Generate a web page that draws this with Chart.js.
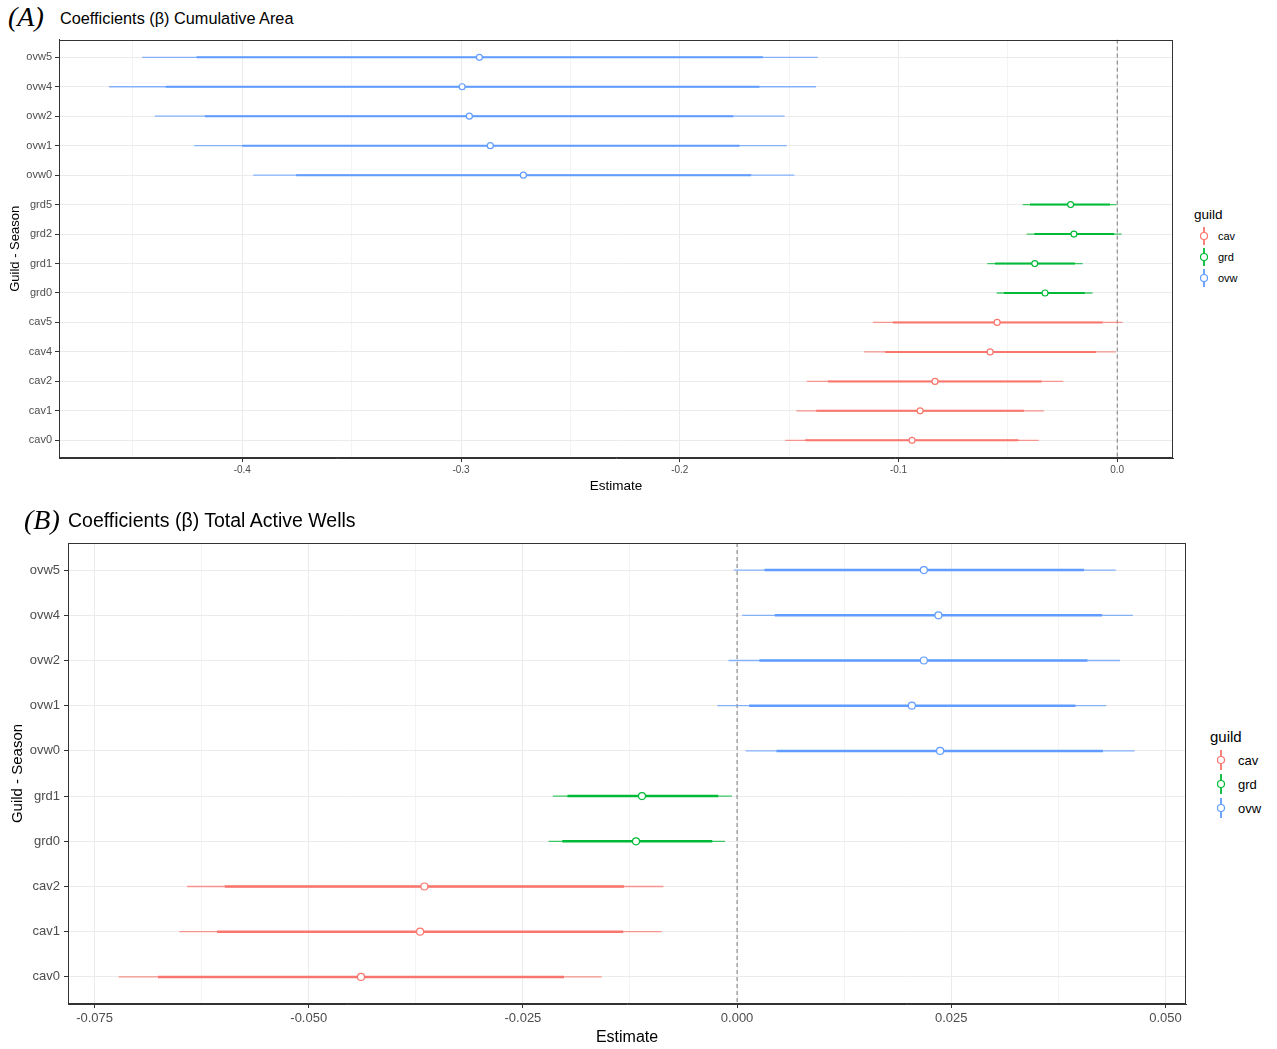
<!DOCTYPE html>
<html><head><meta charset="utf-8">
<script src="https://cdn.jsdelivr.net/npm/chart.js@4/dist/chart.umd.min.js"></script>
<style>
body{margin:0;background:#fff;width:1277px;height:1049px;position:relative;overflow:hidden;font-family:"Liberation Sans",Arial,sans-serif;color:#000;}
.abs{position:absolute;white-space:nowrap;}
.tag{font-family:"Liberation Serif","Times New Roman",serif;font-style:italic;}
canvas{position:absolute;}
</style></head><body>
<div class="abs tag" style="left:8px;top:3px;font-size:28px;line-height:28px;">(A)</div>
<div class="abs" style="left:60px;top:10px;font-size:16.3px;line-height:16px;">Coefficients (β) Cumulative Area</div>
<canvas id="cA" style="left:0;top:30px" width="1190" height="475"></canvas>
<div class="abs tag" style="left:24px;top:506px;font-size:28px;line-height:28px;">(B)</div>
<div class="abs" style="left:68px;top:511px;font-size:19.5px;line-height:19px;">Coefficients (β) Total Active Wells</div>
<canvas id="cB" style="left:0;top:528px" width="1200" height="521"></canvas>
<div id="legA"></div>
<div id="legB"></div>
<script>
// ---- Panel A: Cumulative Area ----
const catsA = ['ovw5','ovw4','ovw2','ovw1','ovw0','grd5','grd2','grd1','grd0','cav5','cav4','cav2','cav1','cav0'];
const estA     = [-0.2916,-0.2995,-0.2962,-0.2866,-0.2715,-0.0213,-0.0198,-0.0377,-0.0330,-0.0549,-0.0581,-0.0833,-0.0901,-0.0938];
const innerLoA = [-0.4209,-0.4350,-0.4171,-0.4000,-0.3754,-0.0399,-0.0379,-0.0559,-0.0518,-0.1026,-0.1061,-0.1323,-0.1376,-0.1426];
const innerHiA = [-0.1620,-0.1636,-0.1755,-0.1727,-0.1674,-0.0033,-0.0014,-0.0193,-0.0148,-0.0067,-0.0097,-0.0346,-0.0426,-0.0452];
const outerLoA = [-0.4458,-0.4609,-0.4400,-0.4220,-0.3950,-0.0432,-0.0414,-0.0594,-0.0551,-0.1117,-0.1157,-0.1419,-0.1467,-0.1518];
const outerHiA = [-0.1369,-0.1377,-0.1521,-0.1511,-0.1476,-0.0003,0.0020,-0.0158,-0.0113,0.0024,-0.0006,-0.0247,-0.0335,-0.0359];
const xMajorA = [-0.4,-0.3,-0.2,-0.1,0.0];
const xMinorA = [-0.45,-0.35,-0.25,-0.15,-0.05];
const xTickLabelsA = ['-0.4','-0.3','-0.2','-0.1','0.0'];

// ---- Panel B: Total Active Wells ----
const catsB = ['ovw5','ovw4','ovw2','ovw1','ovw0','grd1','grd0','cav2','cav1','cav0'];
const estB     = [0.0218,0.0235,0.0218,0.0204,0.0237,-0.0111,-0.0118,-0.0365,-0.0370,-0.0439];
const innerLoB = [0.0032,0.0044,0.0026,0.0014,0.0046,-0.0198,-0.0204,-0.0598,-0.0607,-0.0676];
const innerHiB = [0.0405,0.0426,0.0409,0.0395,0.0427,-0.0022,-0.0029,-0.0132,-0.0133,-0.0202];
const outerLoB = [-0.0004,0.0006,-0.0010,-0.0023,0.0010,-0.0215,-0.0220,-0.0642,-0.0651,-0.0722];
const outerHiB = [0.0442,0.0462,0.0447,0.0431,0.0464,-0.0006,-0.0014,-0.0086,-0.0088,-0.0158];
const xMajorB = [-0.075,-0.05,-0.025,0,0.025,0.05];
const xMinorB = [-0.0625,-0.0375,-0.0125,0.0125,0.0375];
const xTickLabelsB = ['-0.075','-0.050','-0.025','0.000','0.025','0.050'];

const guilds = ['cav','grd','ovw'];
const guildColors = {cav:'#F8766D', grd:'#00BA38', ovw:'#619CFF'};
const guildFaint = {cav:'rgba(248,118,109,0.75)', grd:'rgba(0,186,56,0.75)', ovw:'rgba(97,156,255,0.75)'};

const frame = {
  id:'frame',
  afterDraw(chart){
    const {ctx, chartArea:a} = chart;
    ctx.save(); ctx.strokeStyle='#333'; ctx.lineWidth=1;
    ctx.strokeRect(Math.round(a.left)+0.5, Math.round(a.top)+0.5, Math.round(a.right-a.left)-1, Math.round(a.bottom-a.top)-1);
    ctx.restore();
  }
};

function build(id, cats, est, iLo, iHi, oLo, oHi, xMajor, xMinor, xLabels, cfg){
  const g = cats.map(c => c.slice(0,3));
  const idx = cats.map((c,i)=>i);
  const yMin = -0.6, yMax = cats.length - 1 + 0.6;
  const allTicks = xMajor.concat(xMinor).sort((a,b)=>a-b);
  const majorIndex = v => xMajor.findIndex(m => Math.abs(m - v) < 1e-9);
  new Chart(document.getElementById(id), {
    type:'bar',
    data:{ datasets:[
      {type:'scatter', order:0, data: idx.map(i=>({x:est[i], y:i})), pointRadius:cfg.pr, pointHoverRadius:cfg.pr,
       pointBorderWidth:1.2, pointBackgroundColor:'#fff', pointBorderColor:g.map(k=>guildColors[k])},
      {type:'bar', order:1, indexAxis:'y', grouped:false, data: idx.map(i=>({y:i, x:[iLo[i], iHi[i]]})),
       backgroundColor:g.map(k=>guildColors[k]), maxBarThickness:cfg.inner, borderWidth:0},
      {type:'bar', order:2, indexAxis:'y', grouped:false, data: idx.map(i=>({y:i, x:[oLo[i], oHi[i]]})),
       backgroundColor:g.map(k=>guildFaint[k]), maxBarThickness:cfg.outer, borderWidth:0},
      {type:'line', order:3, data:[{x:0,y:yMin},{x:0,y:yMax}], borderColor:'#7a7a7a', borderDash:[4,3], borderWidth:1, pointRadius:0}
    ]},
    options:{
      indexAxis:'y', responsive:false, animation:false, devicePixelRatio:1,
      events:[],
      layout:{padding:{top:cfg.padTop, right:cfg.padRight, bottom:cfg.padBottom, left:0}},
      plugins:{legend:{display:false}, tooltip:{enabled:false}},
      scales:{
        x:{type:'linear', min:cfg.xmin, max:cfg.xmax, offset:false,
           afterBuildTicks: s => { s.ticks = allTicks.map(v=>({value:v})); },
           afterFit: s => { s.height = cfg.xh; },
           ticks:{autoSkip:false, maxRotation:0, color:'#4D4D4D', font:{family:'"Liberation Sans", Arial, sans-serif', size:cfg.xtf}, padding:cfg.xtp,
             callback: v => { const k = majorIndex(v); return k >= 0 ? xLabels[k] : ''; }},
           grid:{offset:false, color: c => (c.tick && majorIndex(c.tick.value) >= 0) ? '#EBEBEB' : '#F4F4F4', lineWidth:1,
             tickColor: c => (c.tick && majorIndex(c.tick.value) >= 0) ? '#333' : 'rgba(0,0,0,0)', tickLength:4},
           border:{color:'#333', width:1},
           title:{display:true, text:'Estimate', color:'#000', font:{family:'"Liberation Sans", Arial, sans-serif', size:cfg.xtitle}, padding:{top:0,bottom:0}}
        },
        y:{type:'linear', min:yMin, max:yMax, reverse:true, offset:false,
           afterBuildTicks: s => { s.ticks = idx.map(i=>({value:i})); },
           afterFit: s => { s.width = cfg.yw; },
           ticks:{autoSkip:false, color:'#4D4D4D', font:{family:'"Liberation Sans", Arial, sans-serif', size:cfg.ytf}, padding:cfg.ytp,
             callback: v => cats[v]},
           grid:{offset:false, color:'#EBEBEB', lineWidth:1, tickColor:'#333', tickLength:4},
           border:{color:'#333', width:1},
           title:{display:true, text:'Guild - Season', color:'#000', font:{family:'"Liberation Sans", Arial, sans-serif', size:cfg.ytitle}, padding:{top:cfg.ytitlePad,bottom:0}}
        }
      }
    },
    plugins:[frame]
  });
}

build('cA', catsA, estA, innerLoA, innerHiA, outerLoA, outerHiA, xMajorA, xMinorA, xTickLabelsA,
  {xmin:-0.4838, xmax:0.0255, pr:3, inner:2, outer:1.3, padTop:8, padRight:17, padBottom:11, xh:36, yw:59,
   xtf:10, xtp:2, ytf:11, ytp:3, xtitle:13.5, ytitle:13, ytitlePad:8});
build('cB', catsB, estB, innerLoB, innerHiB, outerLoB, outerHiB, xMajorB, xMinorB, xTickLabelsB,
  {xmin:-0.0781, xmax:0.0524, pr:3.5, inner:2.5, outer:1.3, padTop:15, padRight:14, padBottom:2, xh:43, yw:68,
   xtf:13, xtp:3, ytf:13, ytp:4, xtitle:16, ytitle:15, ytitlePad:9});

function legend(el, x, y0, titleSize, labelSize, keyX, textX, step, keyHalf){
  const root = document.getElementById(el);
  let html = `<div class="abs" style="left:${x}px;top:${y0 - titleSize/2}px;font-size:${titleSize}px;line-height:${titleSize}px;">guild</div>`;
  guilds.forEach((gname, i) => {
    const cy = y0 + step * (i + 1);
    const col = guildColors[gname];
    html += `<svg class="abs" style="left:${keyX-7}px;top:${cy-keyHalf}px" width="14" height="${keyHalf*2}">
      <line x1="7" y1="0" x2="7" y2="${keyHalf*2}" stroke="${col}" stroke-width="1.8"/>
      <circle cx="7" cy="${keyHalf}" r="3.5" fill="#fff" stroke="${col}" stroke-width="1.2"/></svg>`;
    html += `<div class="abs" style="left:${textX}px;top:${cy - labelSize/2}px;font-size:${labelSize}px;line-height:${labelSize}px;">${gname}</div>`;
  });
  root.innerHTML = html;
}
legend('legA', 1194, 215, 13.5, 11, 1204, 1218, 21, 9);
legend('legB', 1210, 736, 15, 13, 1221, 1238, 24, 10);
</script>
</body></html>
